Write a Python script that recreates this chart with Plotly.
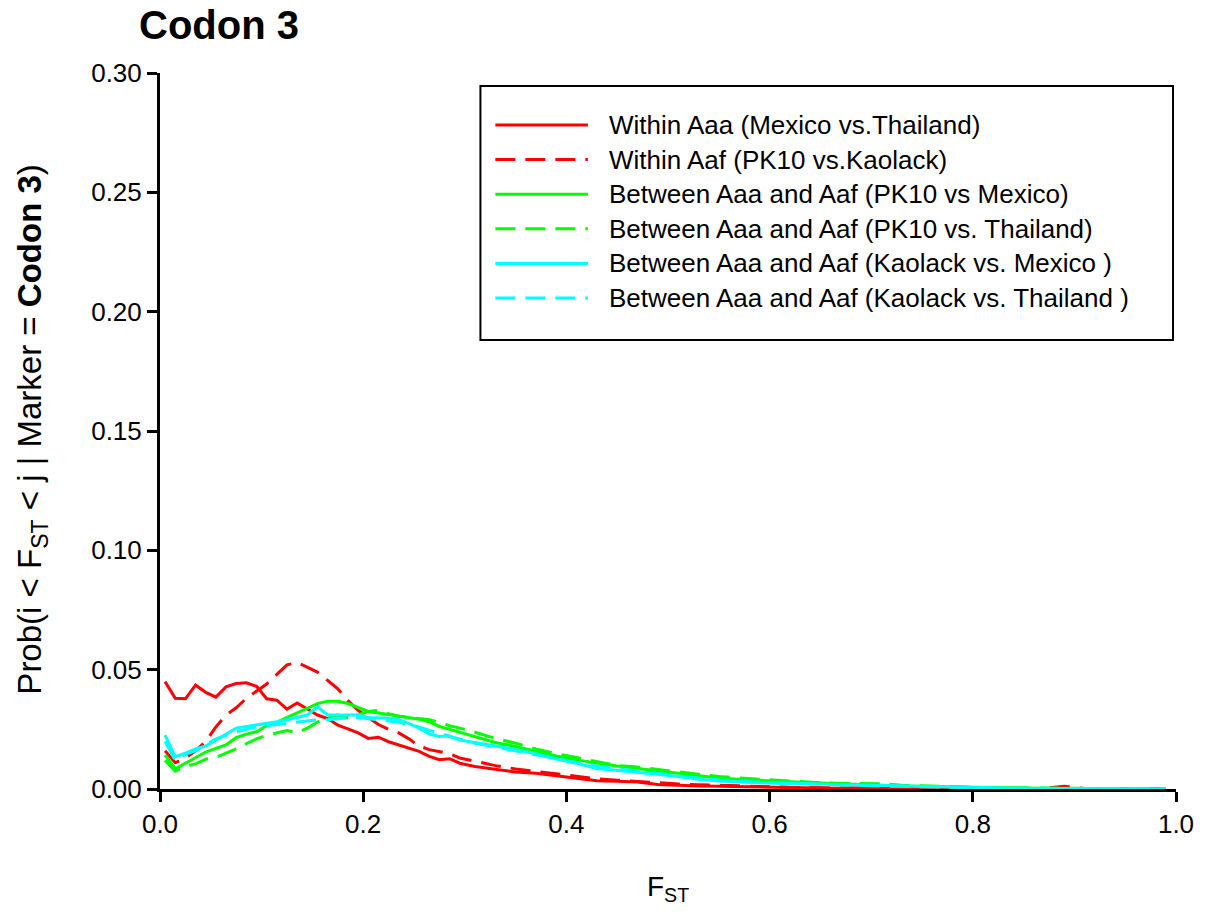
import plotly.graph_objects as go

FST = [0.005, 0.015, 0.025, 0.035, 0.045, 0.055, 0.065, 0.075, 0.085, 0.095,
       0.105, 0.115, 0.125, 0.135, 0.145, 0.155, 0.165, 0.175, 0.185, 0.195,
       0.205, 0.215, 0.225, 0.235, 0.245, 0.255, 0.265, 0.275, 0.285, 0.295,
       0.31, 0.33, 0.35, 0.37, 0.39, 0.41, 0.43, 0.45, 0.47, 0.49,
       0.51, 0.53, 0.55, 0.57, 0.59, 0.61, 0.63, 0.65, 0.67, 0.69,
       0.71, 0.73, 0.75, 0.77, 0.79, 0.81, 0.83, 0.85, 0.87, 0.89,
       0.91, 0.93, 0.95, 0.97, 0.99]

within_aaa_mex_tha = [0.045, 0.038, 0.0378, 0.0435, 0.0405, 0.0385, 0.0428, 0.0442, 0.0445, 0.043,
                      0.0378, 0.0372, 0.0335, 0.036, 0.0335, 0.031, 0.0295, 0.0268, 0.0252, 0.0235,
                      0.0212, 0.0217, 0.0198, 0.0184, 0.0172, 0.0158, 0.0137, 0.0123, 0.0127, 0.0108,
                      0.0094, 0.0082, 0.0071, 0.0066, 0.0055, 0.0043, 0.0035, 0.0032, 0.0029, 0.0019,
                      0.0015, 0.0013, 0.0011, 0.0009, 0.0008, 0.0006, 0.0005, 0.0004, 0.0003, 0.0003,
                      0.0002, 0.0002, 0.0002, 0.0001, 0.0001, 0.0001, 0.0001, 0.0, 0.0, 0.0,
                      0.0, 0.0, 0.0, 0.0, 0.0]

within_aaf_pk10_kao = [0.016, 0.011, 0.013, 0.016, 0.020, 0.026, 0.031, 0.034, 0.038, 0.041,
                       0.044, 0.048, 0.052, 0.053, 0.051, 0.049, 0.0455, 0.042, 0.037, 0.033,
                       0.030, 0.027, 0.025, 0.0235, 0.021, 0.018, 0.0165, 0.0157, 0.0148, 0.013,
                       0.0115, 0.0098, 0.0084, 0.0074, 0.0063, 0.0052, 0.0043, 0.0037, 0.0031, 0.0026,
                       0.0021, 0.0018, 0.0015, 0.0012, 0.0010, 0.0008, 0.0006, 0.0005, 0.0004, 0.0003,
                       0.0003, 0.0002, 0.0002, 0.0001, 0.0002, 0.0001, 0.0001, 0.0001, 0.0003, 0.0012,
                       0.0002, 0.0, 0.0, 0.0, 0.0]

between_pk10_mex = [0.0142, 0.0085, 0.0108, 0.013, 0.0155, 0.017, 0.0185, 0.0215, 0.023, 0.024,
                    0.0265, 0.028, 0.030, 0.032, 0.034, 0.0358, 0.0368, 0.0368, 0.0358, 0.0342,
                    0.0325, 0.0318, 0.0312, 0.0305, 0.0298, 0.0292, 0.0282, 0.0262, 0.025, 0.0238,
                    0.0222, 0.0195, 0.0178, 0.0158, 0.0138, 0.0122, 0.0108, 0.0096, 0.0086, 0.0076,
                    0.0066, 0.0054, 0.0046, 0.0041, 0.0036, 0.0031, 0.0028, 0.0025, 0.0021, 0.0019,
                    0.0016, 0.0013, 0.0011, 0.0009, 0.0007, 0.0006, 0.0005, 0.0004, 0.0003, 0.0003,
                    0.0002, 0.0002, 0.0001, 0.0001, 0.0]

between_pk10_tha = [0.012, 0.0075, 0.0095, 0.0105, 0.0125, 0.0133, 0.015, 0.0168, 0.019, 0.021,
                    0.0225, 0.0235, 0.0245, 0.0235, 0.0255, 0.028, 0.030, 0.031, 0.030, 0.031,
                    0.0325, 0.033, 0.0315, 0.0305, 0.030, 0.0295, 0.029, 0.028, 0.0265, 0.0255,
                    0.0238, 0.0212, 0.0192, 0.0168, 0.0148, 0.0132, 0.0116, 0.0098, 0.0092, 0.0082,
                    0.0072, 0.0062, 0.0052, 0.0046, 0.0041, 0.0033, 0.0030, 0.0026, 0.0023, 0.0021,
                    0.0022, 0.0016, 0.0013, 0.0010, 0.0008, 0.0006, 0.0005, 0.0004, 0.0003, 0.0002,
                    0.0002, 0.0001, 0.0001, 0.0, 0.0]

between_kao_mex = [0.0226, 0.0135, 0.015, 0.0168, 0.018, 0.0205, 0.023, 0.0255, 0.0262, 0.0268,
                   0.0275, 0.0282, 0.029, 0.030, 0.031, 0.0345, 0.031, 0.031, 0.031, 0.031,
                   0.030, 0.0298, 0.0296, 0.029, 0.0275, 0.0255, 0.023, 0.022, 0.0222, 0.0205,
                   0.0195, 0.018, 0.0165, 0.0148, 0.0126, 0.0108, 0.0086, 0.0078, 0.0072, 0.0062,
                   0.0052, 0.0041, 0.0034, 0.0029, 0.0026, 0.0024, 0.0022, 0.002, 0.0018, 0.0015,
                   0.0013, 0.0012, 0.001, 0.0008, 0.0006, 0.0004, 0.0003, 0.0002, 0.0002, 0.0001,
                   0.0001, 0.0001, 0.0, 0.0, 0.0]

between_kao_tha = [0.020, 0.012, 0.0145, 0.016, 0.0185, 0.021, 0.0225, 0.024, 0.025, 0.026,
                   0.0265, 0.027, 0.0275, 0.028, 0.0285, 0.029, 0.029, 0.0295, 0.0298, 0.030,
                   0.0295, 0.029, 0.0285, 0.028, 0.027, 0.026, 0.0245, 0.0235, 0.022, 0.021,
                   0.0192, 0.0176, 0.016, 0.0145, 0.0128, 0.0112, 0.0095, 0.0085, 0.0075, 0.0064,
                   0.0055, 0.0046, 0.0038, 0.0032, 0.0028, 0.0025, 0.0022, 0.002, 0.0017, 0.0015,
                   0.0012, 0.0011, 0.0009, 0.0008, 0.0006, 0.0005, 0.0004, 0.0003, 0.0002, 0.0002,
                   0.0001, 0.0001, 0.0001, 0.0, 0.0]

series_names = ["Within Aaa (Mexico vs.Thailand)",
                "Within Aaf (PK10 vs.Kaolack)",
                "Between Aaa and Aaf (PK10 vs Mexico)",
                "Between Aaa and Aaf (PK10 vs. Thailand)",
                "Between Aaa and Aaf (Kaolack vs. Mexico )",
                "Between Aaa and Aaf (Kaolack vs. Thailand )"]
series_values = [within_aaa_mex_tha, within_aaf_pk10_kao, between_pk10_mex,
                 between_pk10_tha, between_kao_mex, between_kao_tha]
series_colors = ["#FF0000", "#FF0000", "#00FF00", "#00FF00", "#00FFFF", "#00FFFF"]
series_dash = ["solid", "20px,10px", "solid", "20px,10px", "solid", "20px,10px"]

x_ticks = [0.0, 0.2, 0.4, 0.6, 0.8, 1.0]
y_ticks = [0.00, 0.05, 0.10, 0.15, 0.20, 0.25, 0.30]

FONT = "Arial, Liberation Sans, sans-serif"

W, H = 1206, 915
ML, MR, MT, MB = 160, 25, 73, 126
PW, PH = W - ML - MR, H - MT - MB


def px_x(p):
    return (p - ML) / PW


def px_y(p):
    return (H - MB - p) / PH


fig = go.Figure()
for name, vals, col, dsh in zip(series_names, series_values, series_colors, series_dash):
    fig.add_trace(go.Scatter(
        x=FST, y=vals, mode="lines", name=name,
        line=dict(color=col, width=3, dash=dsh),
    ))

axis_common = dict(
    showline=True, linecolor="black", linewidth=3,
    ticks="outside", ticklen=10, tickwidth=2.5, tickcolor="black",
    showgrid=False, zeroline=False,
    tickfont=dict(family=FONT, size=26, color="black"),
)

# legend drawn as a boxed key inside the plot area
shapes = [dict(type="rect", xref="paper", yref="paper",
               x0=px_x(482), x1=px_x(1178), y0=px_y(340), y1=px_y(86),
               line=dict(color="black", width=2), fillcolor="white", layer="above")]
annotations = []
for i, (name, col, dsh) in enumerate(zip(series_names, series_colors, series_dash)):
    ry = px_y(125 + 34.6 * i)
    shapes.append(dict(type="line", xref="paper", yref="paper",
                       x0=px_x(497), x1=px_x(590), y0=ry, y1=ry,
                       line=dict(color=col, width=3, dash=dsh), layer="above"))
    annotations.append(dict(text=name, xref="paper", yref="paper",
                            x=px_x(609), y=ry, xanchor="left", yanchor="middle",
                            showarrow=False,
                            font=dict(family=FONT, size=26, color="black")))

annotations += [
    dict(text="<b>Codon 3</b>", xref="paper", yref="paper",
         x=px_x(137), y=px_y(25), xanchor="left", yanchor="middle",
         showarrow=False, font=dict(family=FONT, size=40, color="black")),
    dict(text="Prob(i &lt; F<sub>ST</sub> &lt; j | Marker = <b>Codon 3</b>)",
         xref="paper", yref="paper", x=px_x(31), y=px_y(430),
         xanchor="center", yanchor="middle", textangle=-90,
         showarrow=False, font=dict(family=FONT, size=33, color="black")),
    dict(text="F<sub>ST</sub>", xref="paper", yref="paper",
         x=0.5, y=px_y(889), xanchor="center", yanchor="middle",
         showarrow=False, font=dict(family=FONT, size=28, color="black")),
]

fig.update_layout(
    width=W, height=H,
    margin=dict(l=ML, r=MR, t=MT, b=MB),
    paper_bgcolor="white", plot_bgcolor="white",
    font=dict(family=FONT, color="black"),
    xaxis=dict(range=[0, 1.0], tickvals=x_ticks, ticktext=[f"{v:.1f}" for v in x_ticks], **axis_common),
    yaxis=dict(range=[0, 0.30], tickvals=y_ticks, ticktext=[f"{v:.2f}" for v in y_ticks], **axis_common),
    showlegend=False,
    shapes=shapes,
    annotations=annotations,
)

fig.write_html("out.html")
